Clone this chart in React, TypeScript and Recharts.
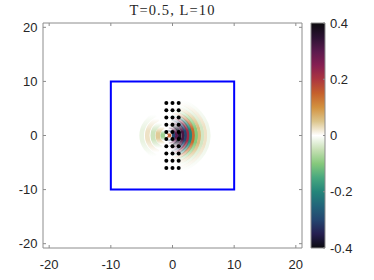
import React from 'react'
import { ScatterChart, Scatter, XAxis, YAxis, ReferenceArea } from 'recharts'

// axes
const X_DOMAIN = [-21, 21]
const Y_DOMAIN = [-20.8, 20.8]
const X_TICKS = [-20, -10, 0, 10, 20]
const Y_TICKS = [-20, -10, 0, 10, 20]
const CB_TICKS = [-0.4, -0.2, 0, 0.2, 0.4]

// blue domain box
const boxX = [-10, 10]
const boxY = [-10, 10]

// receiver dots
const dotCols = [-1, 0, 1]
const dotRows = [6, 4.67, 3.33, 2, 0.67, -0.67, -2, -3.33, -4.67, -6]

// wave fronts: where each arc crosses y=0, and its value
const rightArcX = [-0.45, 0.2, 0.7, 1.2, 1.75, 2.2, 2.6, 3.0, 3.45, 3.9, 4.4, 4.9, 5.4, 5.9]
const rightArcVal = [0.15, -0.3, 0.3, -0.38, 0.32, -0.3, 0.22, -0.2, 0.14, -0.1, 0.06, -0.04, 0.025, -0.015]
const rightCenter = -1
const leftArcX = [-1.6, -2.4, -3.2, -4.1, -5.0]
const leftArcVal = [-0.08, 0.045, -0.045, 0.025, -0.02]
const leftCenter = -0.5

// colormap
const cmapVals = [0.4, 0.35, 0.3, 0.25, 0.2, 0.15, 0.1, 0.05, 0, -0.05, -0.1, -0.15, -0.2, -0.25, -0.3, -0.35, -0.4]
const cmapColors = ['#0b0b0e', '#2b1232', '#5a1a4d', '#861f52', '#ac3640', '#c5602c', '#d39240', '#dcc58c', '#ffffff',
  '#c7e0b5', '#86c97c', '#48a87f', '#24857a', '#22657a', '#244670', '#261f50', '#0b0b10']

const W = 374
const H = 280
const M = { top: 22, right: 71, bottom: 0, left: 0 }
const Y_AXIS_W = 43
const X_AXIS_H = 32
const PLOT_W = W - M.left - M.right - Y_AXIS_W - 1
const PLOT_H = H - M.top - M.bottom - X_AXIS_H - 1
const PX_X = PLOT_W / (X_DOMAIN[1] - X_DOMAIN[0])
const PX_Y = PLOT_H / (Y_DOMAIN[1] - Y_DOMAIN[0])

const AX = '#8c8c8c'
const TXT = '#262626'
const FONT = '"Liberation Sans", Arial, sans-serif'

function hex(h: string) {
  return [1, 3, 5].map((i) => parseInt(h.slice(i, i + 2), 16))
}

function cmap(v: number) {
  const c = Math.max(-0.4, Math.min(0.4, v))
  for (let i = 0; i < cmapVals.length - 1; i++) {
    const a = cmapVals[i], b = cmapVals[i + 1]
    if (c <= a && c >= b) {
      const t = (a - c) / (a - b)
      const p = hex(cmapColors[i]), q = hex(cmapColors[i + 1])
      const r = p.map((x, k) => Math.round(x + (q[k] - x) * t))
      return `rgb(${r[0]},${r[1]},${r[2]})`
    }
  }
  return cmapColors[0]
}

const arcs = [
  ...rightArcX.map((x, i) => ({ id: 'r' + i, x, y: 0, v: rightArcVal[i], c: rightCenter, side: 1, span: 75, w: 3.4 })),
  ...leftArcX.map((x, i) => ({ id: 'l' + i, x, y: 0, v: leftArcVal[i], c: leftCenter, side: -1, span: 60, w: 4.6 })),
]

const dots = dotRows.flatMap((y) => dotCols.map((x) => ({ x, y })))
const cbarEnds = [{ x: 0, y: -0.4 }, { x: 1, y: 0.4 }]

function ArcShape(props: any) {
  const { cx, cy, payload } = props
  const r = Math.abs(payload.x - payload.c)
  const rx = r * PX_X
  const ry = r * PX_Y
  const dir = payload.side
  const ccx = cx - dir * rx
  const s = (payload.span * Math.PI) / 180
  const x1 = ccx + dir * rx * Math.cos(s)
  const yTop = cy - ry * Math.sin(s)
  const yBot = cy + ry * Math.sin(s)
  const col = cmap(payload.v)
  const gid = 'arc-' + payload.id
  return (
    <g>
      <defs>
        <linearGradient id={gid} x1="0" y1="0" x2="0" y2="1">
          <stop offset="0" stopColor={col} stopOpacity={0} />
          <stop offset="0.18" stopColor={col} stopOpacity={0.55} />
          <stop offset="0.36" stopColor={col} stopOpacity={1} />
          <stop offset="0.64" stopColor={col} stopOpacity={1} />
          <stop offset="0.82" stopColor={col} stopOpacity={0.55} />
          <stop offset="1" stopColor={col} stopOpacity={0} />
        </linearGradient>
      </defs>
      <path
        d={`M ${x1} ${yBot} A ${rx} ${ry} 0 0 ${dir === 1 ? 0 : 1} ${x1} ${yTop}`}
        fill="none"
        stroke={`url(#${gid})`}
        strokeWidth={payload.w}
      />
    </g>
  )
}

function Dot(props: any) {
  return <circle cx={props.cx} cy={props.cy} r={2} fill="#000" />
}

function Nothing() {
  return <g />
}

function BottomTick({ x, y, payload }: any) {
  return (
    <g>
      <line x1={x} y1={y} x2={x} y2={y - 3} stroke={AX} />
      <text x={x} y={y + 16} textAnchor="middle" dominantBaseline="central" fontSize={13} fontFamily={FONT} fill={TXT}>
        {payload.value}
      </text>
    </g>
  )
}

function TopTick({ x, y }: any) {
  return <line x1={x} y1={y} x2={x} y2={y + 3} stroke={AX} />
}

function LeftTick({ x, y, payload }: any) {
  return (
    <g>
      <line x1={x} y1={y} x2={x + 3} y2={y} stroke={AX} />
      <text x={x - 5.5} y={y} textAnchor="end" dominantBaseline="central" fontSize={13} fontFamily={FONT} fill={TXT}>
        {payload.value}
      </text>
    </g>
  )
}

function RightTick({ x, y }: any) {
  return <line x1={x} y1={y} x2={x - 3} y2={y} stroke={AX} />
}

function CbarTick({ x, y, payload }: any) {
  return (
    <g>
      <line x1={x} y1={y} x2={x - 2} y2={y} stroke={AX} />
      <text x={x + 5} y={y} textAnchor="start" dominantBaseline="central" fontSize={13} fontFamily={FONT} fill={TXT}>
        {payload.value}
      </text>
    </g>
  )
}

export default function App() {
  return (
    <div style={{ position: 'absolute', left: 0, top: 0, width: W, height: H, background: '#fff' }}>
      <div style={{ position: 'absolute', left: 0, top: 0 }}>
        <ScatterChart width={W} height={H} margin={M}>
          <XAxis type="number" dataKey="x" domain={X_DOMAIN} ticks={X_TICKS} allowDataOverflow height={X_AXIS_H}
            tickSize={0} tickMargin={0} tickLine={false} axisLine={{ stroke: AX }} tick={<BottomTick />} />
          <XAxis xAxisId="t" orientation="top" type="number" dataKey="x" domain={X_DOMAIN} ticks={X_TICKS} allowDataOverflow height={1}
            tickSize={0} tickMargin={0} tickLine={false} axisLine={{ stroke: AX }} tick={<TopTick />} />
          <YAxis type="number" dataKey="y" domain={Y_DOMAIN} ticks={Y_TICKS} allowDataOverflow width={Y_AXIS_W}
            tickSize={0} tickMargin={0} tickLine={false} axisLine={{ stroke: AX }} tick={<LeftTick />} />
          <YAxis yAxisId="r" orientation="right" type="number" dataKey="y" domain={Y_DOMAIN} ticks={Y_TICKS} allowDataOverflow width={1}
            tickSize={0} tickMargin={0} tickLine={false} axisLine={{ stroke: AX }} tick={<RightTick />} />
          <Scatter data={arcs} shape={<ArcShape />} isAnimationActive={false} />
          <ReferenceArea x1={boxX[0]} x2={boxX[1]} y1={boxY[0]} y2={boxY[1]} fill="none" stroke="#0000ff" strokeWidth={2} />
          <Scatter data={dots} shape={<Dot />} isAnimationActive={false} />
        </ScatterChart>
      </div>
      <div style={{ position: 'absolute', left: 0, top: 0 }}>
        <ScatterChart width={W} height={H} margin={{ top: 23, right: 0, bottom: 32, left: 311 }}>
          <defs>
            <linearGradient id="cbar" x1="0" y1="0" x2="0" y2="1">
              {cmapVals.map((v, i) => (
                <stop key={i} offset={(0.4 - v) / 0.8} stopColor={cmapColors[i]} />
              ))}
            </linearGradient>
          </defs>
          <XAxis type="number" dataKey="x" domain={[0, 1]} hide />
          <YAxis orientation="right" type="number" dataKey="y" domain={[-0.4, 0.4]} ticks={CB_TICKS} width={49}
            tickSize={0} tickMargin={0} tickLine={false} axisLine={false} tick={<CbarTick />} />
          <Scatter data={cbarEnds} shape={<Nothing />} isAnimationActive={false} />
          <ReferenceArea x1={0} x2={1} y1={-0.4} y2={0.4} fill="url(#cbar)" fillOpacity={1} stroke={AX} strokeWidth={1} />
        </ScatterChart>
      </div>
      <div style={{ position: 'absolute', left: Y_AXIS_W, width: PLOT_W, top: 2, textAlign: 'center',
        fontFamily: '"Liberation Serif", "DejaVu Serif", serif', fontSize: 14.5, color: TXT, letterSpacing: 1.1 }}>
        T=0.5, L=10
      </div>
    </div>
  )
}
